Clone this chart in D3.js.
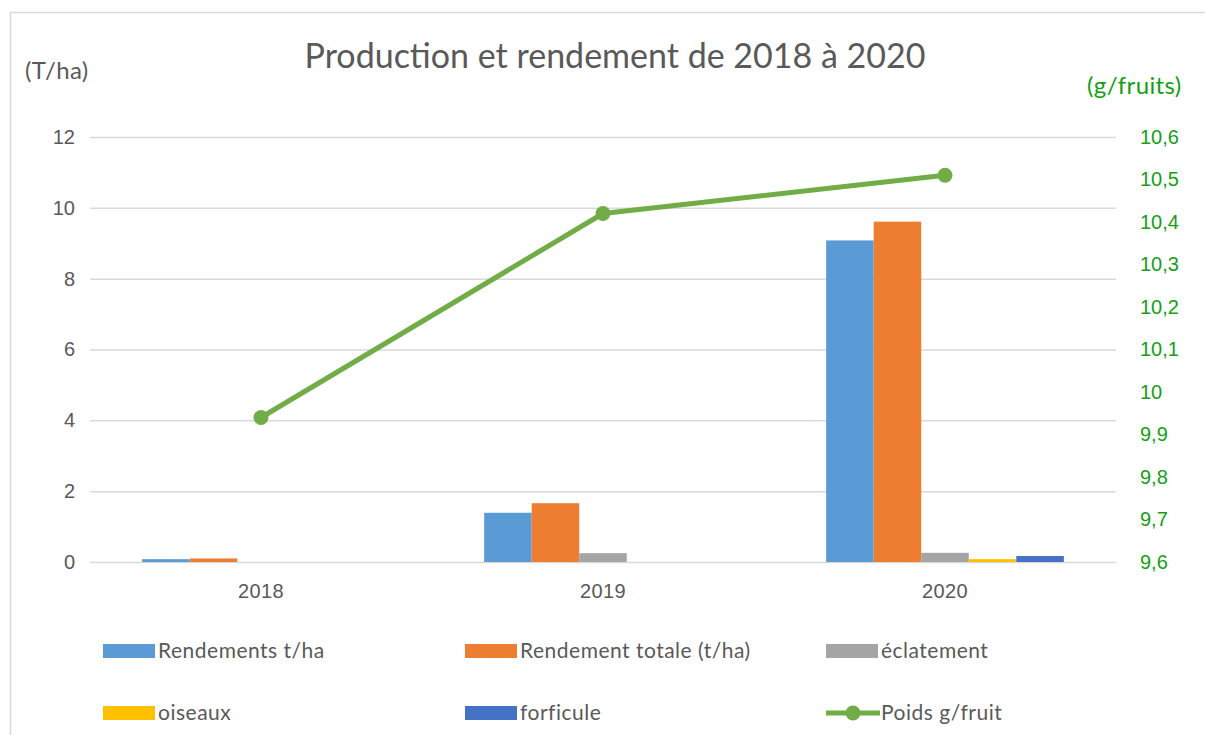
<!DOCTYPE html>
<html>
<head>
<meta charset="utf-8">
<script src="https://cdn.jsdelivr.net/npm/d3@7"></script>
<style>
  body { margin: 0; background: #fff; }
  svg { display: block; font-family: Lato, "Open Sans", sans-serif; }
</style>
</head>
<body>
<div id="chart"></div>
<script>
// Data
const years = ['2018', '2019', '2020'];
const rendements = [0.08, 1.39, 9.08];
const rendementTotale = [0.10, 1.66, 9.61];
const eclatement = [0, 0.25, 0.26];
const oiseaux = [0, 0, 0.08];
const forficule = [0, 0, 0.17];
const poids = [9.94, 10.42, 10.51];

const leftTicks = [0, 2, 4, 6, 8, 10, 12];
const rightTicks = [9.6, 9.7, 9.8, 9.9, 10, 10.1, 10.2, 10.3, 10.4, 10.5, 10.6];

const barSeries = [
  { name: 'Rendements t/ha', values: rendements, color: '#5B9BD5' },
  { name: 'Rendement totale (t/ha)', values: rendementTotale, color: '#ED7D31' },
  { name: 'éclatement', values: eclatement, color: '#A5A5A5' },
  { name: 'oiseaux', values: oiseaux, color: '#FFC000' },
  { name: 'forficule', values: forficule, color: '#4472C4' }
];
const lineColor = '#70AD47';
const greenText = '#14A014';
const textColor = '#595959';

const W = 1205, H = 735;
const plot = { left: 90, right: 1116, top: 137, bottom: 562 };

const svg = d3.select('#chart').append('svg')
  .attr('width', W).attr('height', H);

// chart frame
svg.append('path')
  .attr('d', `M10.5,${H} V12.5 H${W}`)
  .attr('fill', 'none')
  .attr('stroke', '#d9d9d9')
  .attr('stroke-width', 1.5);

const x = d3.scaleBand().domain(years).range([plot.left, plot.right]);
const groupW = x.bandwidth() * 0.695;
const xSub = d3.scaleBand().domain(barSeries.map(s => s.name)).range([0, groupW]);
const yL = d3.scaleLinear().domain([0, 12]).range([plot.bottom, plot.top]);
const yR = d3.scaleLinear().domain([9.6, 10.6]).range([plot.bottom, plot.top]);

// gridlines + left axis
const gLeft = svg.append('g')
  .attr('transform', `translate(${plot.left},0)`)
  .call(d3.axisLeft(yL).tickValues(leftTicks).tickSize(-(plot.right - plot.left)).tickPadding(15));
gLeft.select('.domain').remove();
gLeft.selectAll('.tick line').attr('stroke', '#d9d9d9').attr('stroke-width', 1.5);
gLeft.selectAll('.tick text').attr('fill', textColor).attr('font-size', 20);

// right axis
const fmtComma = d => String(d3.format('.1~f')(d)).replace('.', ',');
const gRight = svg.append('g')
  .attr('transform', `translate(${plot.right},0)`)
  .call(d3.axisRight(yR).tickValues(rightTicks).tickSize(0).tickPadding(24).tickFormat(fmtComma));
gRight.select('.domain').remove();
gRight.selectAll('.tick text').attr('fill', greenText).attr('font-size', 20);

// x axis labels
const gX = svg.append('g')
  .attr('transform', `translate(0,${plot.bottom})`)
  .call(d3.axisBottom(x).tickSize(0).tickPadding(22));
gX.select('.domain').remove();
gX.selectAll('.tick text').attr('fill', textColor).attr('font-size', 20).attr('letter-spacing', 0.4);

// bars
const groups = svg.append('g').selectAll('g')
  .data(years)
  .join('g')
  .attr('transform', d => `translate(${x(d) + (x.bandwidth() - groupW) / 2},0)`);

groups.selectAll('rect')
  .data((d, i) => barSeries.map(s => ({ name: s.name, color: s.color, v: s.values[i] })))
  .join('rect')
  .attr('x', d => xSub(d.name))
  .attr('width', xSub.bandwidth())
  .attr('y', d => yL(d.v))
  .attr('height', d => yL(0) - yL(d.v))
  .attr('fill', d => d.color);

// line series
const pts = years.map((yr, i) => ({ x: x(yr) + x.bandwidth() / 2, y: yR(poids[i]) }));
svg.append('path')
  .datum(pts)
  .attr('fill', 'none')
  .attr('stroke', lineColor)
  .attr('stroke-width', 5)
  .attr('stroke-linejoin', 'round')
  .attr('d', d3.line().x(d => d.x).y(d => d.y));
svg.append('g').selectAll('circle')
  .data(pts)
  .join('circle')
  .attr('cx', d => d.x).attr('cy', d => d.y)
  .attr('r', 7.5)
  .attr('fill', lineColor);

// title and axis titles
svg.append('text')
  .attr('x', 615).attr('y', 68)
  .attr('text-anchor', 'middle')
  .attr('font-size', 34)
  .attr('fill', textColor)
  .text('Production et rendement de 2018 à 2020');
svg.append('text')
  .attr('x', 25).attr('y', 79)
  .attr('font-size', 24)
  .attr('letter-spacing', 0.4)
  .attr('fill', textColor)
  .text('(T/ha)');
svg.append('text')
  .attr('x', 1087).attr('y', 94)
  .attr('font-size', 24)
  .attr('letter-spacing', 0.4)
  .attr('fill', greenText)
  .text('(g/fruits)');

// legend
const legendItems = barSeries.map(s => ({ name: s.name, color: s.color, type: 'bar' }))
  .concat([{ name: 'Poids g/fruit', color: lineColor, type: 'line' }]);
const legCols = [103, 465, 826];
const legRows = [651, 713];
const leg = svg.append('g').selectAll('g')
  .data(legendItems)
  .join('g')
  .attr('transform', (d, i) => `translate(${legCols[i % 3]},${legRows[Math.floor(i / 3)]})`);
leg.filter(d => d.type === 'bar').append('rect')
  .attr('x', 0).attr('y', -7).attr('width', 52).attr('height', 14)
  .attr('fill', d => d.color);
leg.filter(d => d.type === 'line').append('line')
  .attr('x1', 0).attr('x2', 54).attr('y1', 0).attr('y2', 0)
  .attr('stroke', d => d.color).attr('stroke-width', 5);
leg.filter(d => d.type === 'line').append('circle')
  .attr('cx', 27).attr('cy', 0).attr('r', 7.5)
  .attr('fill', d => d.color);
leg.append('text')
  .attr('x', 55).attr('y', 0).attr('dy', '0.35em')
  .attr('font-size', 21)
  .attr('letter-spacing', 0.5)
  .attr('fill', textColor)
  .text(d => d.name);
</script>
</body>
</html>
